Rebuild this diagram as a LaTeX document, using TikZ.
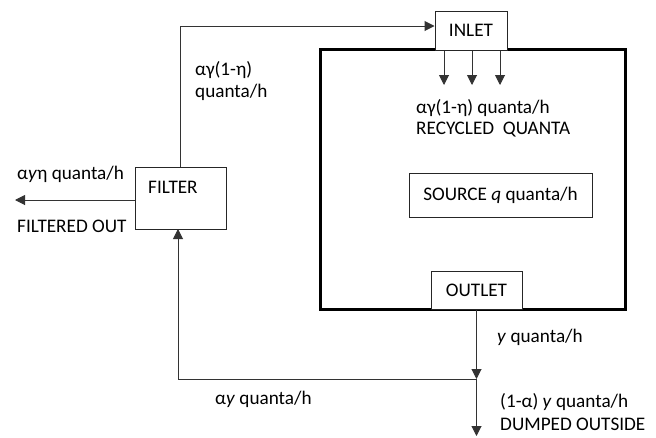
\documentclass[tikz,border=0pt]{standalone}
\usepackage{fontspec}
\setmainfont{Carlito}
\usetikzlibrary{arrows.meta}
\begin{document}
\begin{tikzpicture}[x=1pt,y=-1pt,
  box/.style={draw=black!85, line width=1pt, fill=white, inner sep=0pt},
  conn/.style={draw=black!80, line width=1pt},
  arr/.style={conn, -{Triangle[width=10pt,length=10pt]}},
  txt/.style={anchor=west, inner sep=0pt, font=\fontsize{19.2}{22}\selectfont}]
\useasboundingbox (0,0) rectangle (656,437);
% room
\node (room) [draw=black, line width=3pt, minimum width=305, minimum height=260, inner sep=0pt] at (472.5,179) {};
\node (inlet) [box, minimum width=72, minimum height=39, font=\fontsize{19.2}{22}\selectfont] at (471,30.5) {INLET};
\node (outlet) [box, minimum width=91, minimum height=38, font=\fontsize{19.2}{22}\selectfont] at (476.5,290) {OUTLET};
\node (source) [box, minimum width=183, minimum height=44, font=\fontsize{19.2}{22}\selectfont] at (500.5,195) {SOURCE \textit{q} quanta/h};
\node (filter) [box, minimum width=91, minimum height=62] at (180.5,198) {};
\node (ftxt) [txt] at (148,187) {FILTER};
% coordinates
\coordinate (r1) at (444,85);
\coordinate (r2) at (472,85);
\coordinate (r3) at (500,85);
\coordinate (fo) at (15,200);
\coordinate (j) at (476.5,379);
\coordinate (dump) at (476.5,436);
\coordinate (fb) at (178,229);
% connectors
\draw[arr] (filter.north) |- ([yshift=4.5pt]inlet.west);
\draw[arr] (inlet.south -| r1) -- (r1);
\draw[arr] (inlet.south -| r2) -- (r2);
\draw[arr] (inlet.south -| r3) -- (r3);
\draw[arr] (filter.west |- fo) -- (fo);
\draw[arr] (outlet.south) -- (j);
\draw[arr] (j) -- (dump);
\draw[arr] (j) -| (fb);
% labels
\node (l1) [txt] at (195,70) {αγ(1-η)};
\node (l2) [txt] at (195,92) {quanta/h};
\node (l3) [txt] at (17,174) {α\textit{y}η quanta/h};
\node (l4) [txt] at (17,226) {FILTERED OUT};
\node (l5) [txt] at (416,108) {αγ(1-η) quanta/h};
\node (l6) [txt] at (416,130) {RECYCLED\ \ QUANTA};
\node (l7) [txt] at (215,399) {α\textit{y} quanta/h};
\node (l8) [txt] at (497,337) {\textit{y} quanta/h};
\node (l9) [txt] at (500,402) {(1-α) \textit{y} quanta/h};
\node (l10) [txt] at (500,424) {DUMPED OUTSIDE};
\end{tikzpicture}
\end{document}
